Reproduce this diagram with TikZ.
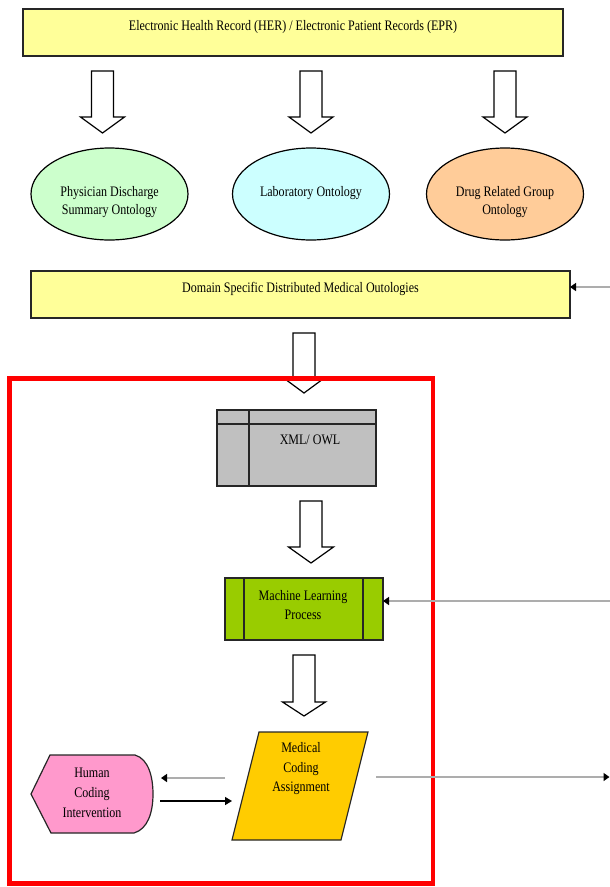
\documentclass[tikz,border=0pt]{standalone}
\usepackage{fontspec}
\setmainfont{Liberation Serif}[FakeStretch=0.83]
\usetikzlibrary{arrows.meta,shapes.geometric}
\definecolor{ehry}{HTML}{FFFF99}
\definecolor{pdg}{HTML}{CCFFCC}
\definecolor{lbc}{HTML}{CCFFFF}
\definecolor{drg}{HTML}{FFCC99}
\definecolor{xmlg}{HTML}{C0C0C0}
\definecolor{mlg}{HTML}{99CC00}
\definecolor{mcy}{HTML}{FFCC00}
\definecolor{hcp}{HTML}{FF99CC}
\newcommand\blockarr[5]{% cx, ytop, yhead, ytip, head half width
  \draw[blk] ({#1-11},#2) -- ({#1+11},#2) -- ({#1+11},#3) -- ({#1+#5},#3) -- (#1,#4)
    -- ({#1-#5},#3) -- ({#1-11},#3) -- cycle;}
\begin{document}
\begin{tikzpicture}[x=1pt,y=-1pt,
  font=\fontsize{14.5}{18.5}\selectfont,
  box/.style={draw=black!85, line width=1.2pt, inner sep=0pt, outer sep=0pt},
  oval/.style={ellipse, draw=black, line width=1.2pt, inner sep=0pt, minimum width=157pt, minimum height=92pt},
  txt/.style={align=center, inner sep=0pt},
  blk/.style={draw=black, line width=1.2pt, fill=white, line join=miter},
  garrow/.style={draw=black!32, line width=2.5pt, -{Triangle[length=6pt,width=8pt,color=black]}},
  barrow/.style={draw=black, line width=1.4pt, -{Triangle[length=7pt,width=8pt]}}]
\useasboundingbox (0,0) rectangle (610,887);

% top record box
\node[box, fill=ehry, minimum width=540pt, minimum height=47pt] (ehr) at (293,32.5) {};
\node[txt] (ehrt) at (293,27.5) {Electronic Health Record (HER) / Electronic Patient Records (EPR)};

% block arrows to ontologies
\blockarr{102.5}{71}{117}{133}{22}
\blockarr{311}{71}{117}{133}{22}
\blockarr{505}{71}{117}{133}{22}

% ontologies
\node[oval, fill=pdg] (pd) at (109.5,194) {};
\node[txt] (pdt) at (109.5,202) {Physician Discharge\\Summary Ontology};
\node[oval, fill=lbc] (lb) at (311,194) {};
\node[txt] (lbt) at (311,193) {Laboratory Ontology};
\node[oval, fill=drg] (dr) at (505,194) {};
\node[txt] (drt) at (505,202) {Drug Related Group\\Ontology};

% domain box
\node[box, fill=ehry, minimum width=539pt, minimum height=47pt] (dom) at (300.5,294.5) {};
\node[txt] (domt) at (300.5,288.5) {Domain Specific Distributed Medical Outologies};
\coordinate (r1) at (610,287);
\draw[garrow] (r1) -- (r1 -| dom.east);

% block arrow into frame
\blockarr{304}{333}{379}{393}{19}

% red frame
\node[draw=red, line width=4.5pt, inner sep=0pt, minimum width=423.5pt, minimum height=505pt] (frame) at (221.25,631) {};

% XML / OWL box
\node[box, fill=xmlg, minimum width=159pt, minimum height=76pt] (xml) at (296.5,448) {};
\draw[line width=1.2pt, black!85] ([yshift=-14pt]xml.north west) -- ([yshift=-14pt]xml.north east);
\draw[line width=1.2pt, black!85] ([xshift=32pt]xml.north west) -- ([xshift=32pt]xml.south west);
\node[txt] (xmlt) at (310,440) {XML/ OWL};

\blockarr{311}{501}{547}{563}{22.5}

% machine learning process
\node[box, fill=mlg, minimum width=158pt, minimum height=62pt] (ml) at (304,609) {};
\draw[line width=1.2pt, black!85] ([xshift=19pt]ml.north west) -- ([xshift=19pt]ml.south west);
\draw[line width=1.2pt, black!85] ([xshift=-20pt]ml.north east) -- ([xshift=-20pt]ml.south east);
\node[txt] (mlt) at (303,605) {Machine Learning\\Process};
\coordinate (r2) at (610,601);
\draw[garrow] (r2) -- (r2 -| ml.east);

\blockarr{304}{655}{702}{716}{21.5}

% medical coding assignment (parallelogram)
\draw[line width=1.2pt, black!85, fill=mcy] (232,840) -- (259,732) -- (368,732) -- (341,840) -- cycle;
\node[txt, font=\fontsize{14.5}{19.5}\selectfont] (mc) at (301,769) {Medical\\Coding\\Assignment};

% human coding intervention
\draw[line width=1.2pt, black!85, fill=hcp] (31,794) -- (50,755) -- (135,755)
  .. controls (149,759) and (153,778) .. (153,794)
  .. controls (153,812) and (148,829) .. (134,833) -- (51,833) -- cycle;
\node[txt, font=\fontsize{14.5}{20}\selectfont] (hc) at (92,793) {Human\\Coding\\Intervention};

% connectors around medical coding
\coordinate (a1) at (225,778);
\coordinate (a2) at (161,778);
\draw[garrow] (a1) -- (a2);
\coordinate (b1) at (160,801);
\coordinate (b2) at (232,801);
\draw[barrow] (b1) -- (b2);
\coordinate (o1) at (376,777);
\coordinate (o2) at (609.5,777);
\draw[garrow] (o1) -- (o2);
\end{tikzpicture}
\end{document}
